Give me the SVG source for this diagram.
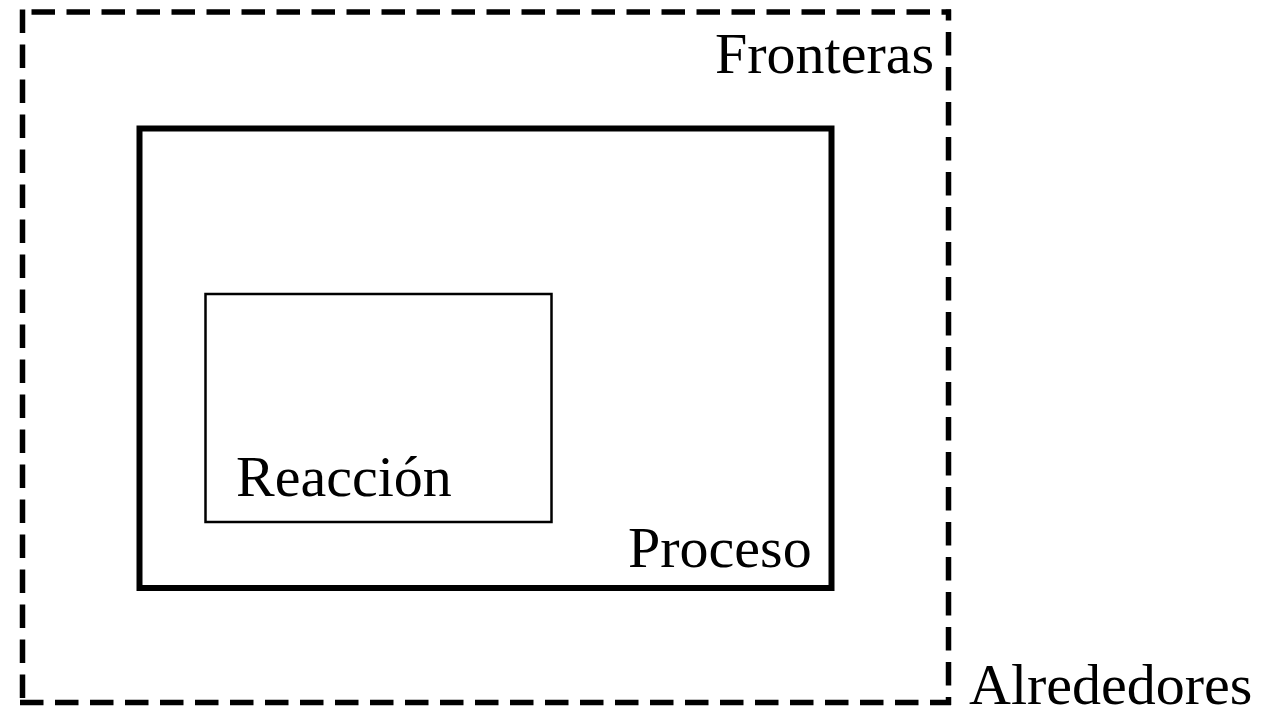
<svg xmlns="http://www.w3.org/2000/svg" width="1261" height="712" viewBox="0 0 1261 712">
  <style>
    .lbl { font-family: "Liberation Serif", "Times New Roman", serif; font-size: 58px; fill: #000; }
    .dash { stroke: #000; stroke-width: 5.5; fill: none; stroke-dasharray: 23.5 11.5; }
  </style>
  <rect x="0" y="0" width="1261" height="712" fill="#fff"/>
  <g id="fronteras">
    <line class="dash" x1="22.5" y1="9.5" x2="22.5" y2="698"/>
    <line class="dash" x1="31.5" y1="12" x2="951" y2="12"/>
    <line class="dash" x1="948.5" y1="9.5" x2="948.5" y2="705" stroke-dashoffset="12.5"/>
    <line class="dash" x1="20" y1="702.5" x2="951" y2="702.5"/>
    <text class="lbl" x="715" y="72.5">Fronteras</text>
  </g>
  <g id="alrededores">
    <text class="lbl" x="969" y="704">Alrededores</text>
  </g>
  <g id="proceso">
    <rect x="139.5" y="128.5" width="692" height="459.5" fill="none" stroke="#000" stroke-width="6"/>
    <text class="lbl" x="628" y="567">Proceso</text>
  </g>
  <g id="reaccion">
    <rect x="205.5" y="294" width="346" height="228" fill="none" stroke="#000" stroke-width="2.5"/>
    <text class="lbl" x="236" y="496">Reacción</text>
  </g>
  <g id="connectors"></g>
</svg>
